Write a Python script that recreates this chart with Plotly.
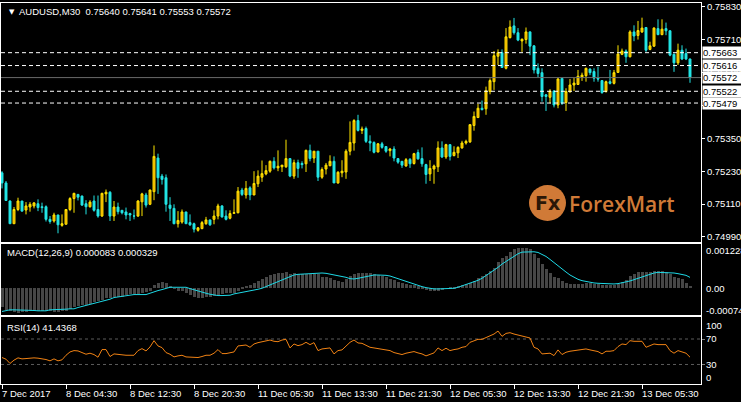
import plotly.graph_objects as go

W, H = 741, 402

# ---------------- data ----------------
bar_index = list(range(173))

open_ = [0.75224,0.75187,0.75121,0.75038,0.75090,0.75121,0.75088,0.75099,0.75103,0.75111,
0.75100,0.75100,0.75054,0.75048,0.75070,0.75032,0.75036,0.75090,0.75130,0.75145,
0.75139,0.75111,0.75100,0.75121,0.75090,0.75066,0.75147,0.75153,0.75066,0.75099,
0.75087,0.75081,0.75075,0.75066,0.75066,0.75118,0.75143,0.75109,0.75155,0.75278,
0.75212,0.75206,0.75106,0.75094,0.75038,0.75044,0.75081,0.75042,0.75038,0.75014,
0.75020,0.75038,0.75052,0.75054,0.75066,0.75103,0.75066,0.75058,0.75076,0.75078,
0.75161,0.75143,0.75169,0.75143,0.75184,0.75208,0.75220,0.75230,0.75266,0.75242,
0.75246,0.75246,0.75276,0.75212,0.75261,0.75258,0.75257,0.75306,0.75278,0.75303,
0.75208,0.75238,0.75250,0.75266,0.75187,0.75224,0.75227,0.75303,0.75333,0.75415,
0.75379,0.75386,0.75339,0.75335,0.75300,0.75330,0.75320,0.75305,0.75311,0.75276,
0.75266,0.75249,0.75273,0.75258,0.75298,0.75276,0.75254,0.75220,0.75238,0.75246,
0.75315,0.75282,0.75327,0.75287,0.75297,0.75315,0.75333,0.75337,0.75397,0.75426,
0.75460,0.75458,0.75521,0.75557,0.75650,0.75663,0.75606,0.75718,0.75761,0.75736,
0.75706,0.75711,0.75739,0.75688,0.75606,0.75590,0.75509,0.75500,0.75523,0.75472,
0.75569,0.75481,0.75520,0.75545,0.75547,0.75574,0.75579,0.75603,0.75594,0.75570,
0.75561,0.75521,0.75557,0.75551,0.75591,0.75657,0.75669,0.75648,0.75739,0.75726,
0.75739,0.75755,0.75675,0.75687,0.75751,0.75729,0.75751,0.75743,0.75657,0.75626,
0.75672,0.75660,0.75640]

high = [0.75230,0.75194,0.75123,0.75099,0.75133,0.75121,0.75117,0.75117,0.75117,0.75127,
0.75115,0.75105,0.75066,0.75078,0.75070,0.75072,0.75090,0.75135,0.75151,0.75147,
0.75141,0.75124,0.75124,0.75141,0.75141,0.75151,0.75163,0.75157,0.75121,0.75115,
0.75087,0.75097,0.75078,0.75090,0.75124,0.75151,0.75151,0.75163,0.75324,0.75294,
0.75220,0.75218,0.75135,0.75109,0.75084,0.75090,0.75081,0.75072,0.75042,0.75026,
0.75048,0.75063,0.75052,0.75087,0.75111,0.75106,0.75087,0.75087,0.75127,0.75172,
0.75169,0.75194,0.75175,0.75230,0.75233,0.75269,0.75252,0.75269,0.75281,0.75306,
0.75252,0.75345,0.75276,0.75272,0.75272,0.75266,0.75309,0.75327,0.75303,0.75303,
0.75244,0.75260,0.75288,0.75284,0.75230,0.75270,0.75310,0.75412,0.75420,0.75436,
0.75393,0.75393,0.75361,0.75339,0.75333,0.75337,0.75321,0.75315,0.75321,0.75276,
0.75266,0.75278,0.75278,0.75297,0.75309,0.75317,0.75257,0.75270,0.75254,0.75339,
0.75339,0.75330,0.75329,0.75321,0.75321,0.75341,0.75345,0.75402,0.75448,0.75476,
0.75488,0.75539,0.75569,0.75669,0.75675,0.75675,0.75753,0.75781,0.75790,0.75753,
0.75715,0.75755,0.75741,0.75690,0.75624,0.75606,0.75512,0.75530,0.75526,0.75572,
0.75572,0.75533,0.75567,0.75572,0.75600,0.75590,0.75608,0.75606,0.75606,0.75612,
0.75563,0.75561,0.75600,0.75600,0.75690,0.75678,0.75675,0.75745,0.75763,0.75779,
0.75791,0.75757,0.75703,0.75756,0.75785,0.75785,0.75773,0.75745,0.75660,0.75696,
0.75690,0.75678,0.75641]

low = [0.75167,0.75121,0.75038,0.75038,0.75084,0.75084,0.75072,0.75082,0.75094,0.75084,
0.75078,0.75046,0.75038,0.75042,0.75003,0.75027,0.75036,0.75084,0.75078,0.75123,
0.75103,0.75072,0.75097,0.75082,0.75060,0.75063,0.75117,0.75048,0.75048,0.75072,
0.75072,0.75054,0.75048,0.75054,0.75063,0.75066,0.75097,0.75106,0.75124,0.75147,
0.75181,0.75082,0.75048,0.75036,0.75024,0.75038,0.75038,0.75030,0.75006,0.75009,
0.75018,0.75034,0.75030,0.75036,0.75054,0.75060,0.75050,0.75054,0.75076,0.75076,
0.75139,0.75130,0.75124,0.75143,0.75172,0.75191,0.75215,0.75224,0.75236,0.75230,
0.75227,0.75242,0.75208,0.75202,0.75206,0.75240,0.75227,0.75266,0.75260,0.75194,
0.75202,0.75218,0.75248,0.75187,0.75184,0.75208,0.75202,0.75288,0.75305,0.75375,
0.75366,0.75333,0.75303,0.75295,0.75299,0.75312,0.75297,0.75284,0.75266,0.75257,
0.75242,0.75246,0.75242,0.75254,0.75272,0.75246,0.75184,0.75194,0.75184,0.75227,
0.75278,0.75275,0.75269,0.75284,0.75278,0.75312,0.75327,0.75333,0.75378,0.75424,
0.75452,0.75436,0.75511,0.75527,0.75618,0.75608,0.75602,0.75715,0.75729,0.75705,
0.75666,0.75696,0.75654,0.75587,0.75572,0.75484,0.75450,0.75478,0.75463,0.75460,
0.75472,0.75450,0.75517,0.75523,0.75545,0.75560,0.75557,0.75581,0.75557,0.75557,
0.75513,0.75517,0.75547,0.75547,0.75590,0.75654,0.75626,0.75646,0.75705,0.75711,
0.75735,0.75666,0.75672,0.75684,0.75727,0.75727,0.75727,0.75650,0.75593,0.75618,
0.75636,0.75636,0.75553]

close = [0.75187,0.75123,0.75038,0.75090,0.75121,0.75084,0.75103,0.75109,0.75114,0.75097,
0.75097,0.75054,0.75046,0.75070,0.75034,0.75038,0.75090,0.75130,0.75149,0.75135,
0.75106,0.75100,0.75117,0.75087,0.75066,0.75149,0.75153,0.75066,0.75099,0.75082,
0.75078,0.75070,0.75070,0.75066,0.75121,0.75147,0.75106,0.75161,0.75284,0.75206,
0.75200,0.75109,0.75094,0.75038,0.75050,0.75081,0.75038,0.75034,0.75018,0.75023,
0.75042,0.75052,0.75034,0.75066,0.75103,0.75063,0.75054,0.75075,0.75078,0.75157,
0.75145,0.75167,0.75143,0.75185,0.75212,0.75221,0.75232,0.75266,0.75242,0.75248,
0.75252,0.75276,0.75212,0.75261,0.75240,0.75254,0.75306,0.75276,0.75303,0.75208,
0.75236,0.75252,0.75266,0.75187,0.75226,0.75230,0.75303,0.75335,0.75415,0.75379,
0.75384,0.75339,0.75333,0.75299,0.75330,0.75317,0.75303,0.75311,0.75278,0.75263,
0.75252,0.75272,0.75257,0.75294,0.75275,0.75257,0.75218,0.75240,0.75249,0.75315,
0.75282,0.75327,0.75284,0.75299,0.75317,0.75333,0.75339,0.75400,0.75430,0.75460,
0.75455,0.75524,0.75561,0.75652,0.75663,0.75609,0.75721,0.75757,0.75736,0.75709,
0.75712,0.75739,0.75687,0.75600,0.75587,0.75503,0.75503,0.75523,0.75472,0.75567,
0.75478,0.75521,0.75545,0.75552,0.75577,0.75581,0.75606,0.75590,0.75570,0.75567,
0.75517,0.75557,0.75551,0.75590,0.75658,0.75669,0.75648,0.75739,0.75724,0.75744,
0.75753,0.75672,0.75688,0.75753,0.75729,0.75749,0.75743,0.75654,0.75626,0.75672,
0.75640,0.75640,0.75572]

macd_main = [-0.00057,-0.00064,-0.00069,-0.00072,-0.00074,-0.00072,-0.00071,-0.00069,-0.00069,-0.00067,
-0.00067,-0.00067,-0.00069,-0.00070,-0.00071,-0.00069,-0.00067,-0.00062,-0.00055,-0.00052,
-0.00050,-0.00049,-0.00047,-0.00042,-0.00039,-0.00035,-0.00029,-0.00029,-0.00025,-0.00025,
-0.00025,-0.00020,-0.00017,-0.00017,-0.00017,-0.00015,-0.00012,-0.00007,0.00012,0.00016,
0.00021,0.00017,0.00007,0.00001,-0.00007,-0.00009,-0.00014,-0.00019,-0.00025,-0.00029,
-0.00029,-0.00027,-0.00025,-0.00022,-0.00019,-0.00017,-0.00015,-0.00015,-0.00013,-0.00009,
0.00002,0.00008,0.00012,0.00016,0.00023,0.00029,0.00035,0.00040,0.00044,0.00046,
0.00047,0.00049,0.00045,0.00046,0.00045,0.00045,0.00045,0.00045,0.00043,0.00043,
0.00036,0.00035,0.00031,0.00025,0.00023,0.00021,0.00028,0.00038,0.00045,0.00048,
0.00048,0.00046,0.00046,0.00043,0.00040,0.00039,0.00035,0.00030,0.00025,0.00021,
0.00016,0.00013,0.00010,0.00009,0.00006,0.00003,-0.00003,-0.00007,-0.00009,-0.00007,
-0.00003,0.00000,0.00004,0.00005,0.00008,0.00011,0.00013,0.00018,0.00023,0.00031,
0.00039,0.00045,0.00053,0.00063,0.00080,0.00091,0.00098,0.00111,0.00118,0.001228,
0.00123,0.00123,0.00118,0.00105,0.00093,0.00075,0.00059,0.00047,0.00035,0.00031,
0.00023,0.00016,0.00015,0.00014,0.00013,0.00015,0.00016,0.00016,0.00015,0.00013,
0.00011,0.00009,0.00009,0.00011,0.00015,0.00019,0.00026,0.00039,0.00045,0.00050,
0.00051,0.00050,0.00051,0.00053,0.00053,0.00053,0.00051,0.00043,0.00035,0.00033,
0.00028,0.00018,0.000083]

macd_signal = [-0.00070,-0.00067,-0.00065,-0.00065,-0.00065,-0.00065,-0.00065,-0.00065,-0.00067,-0.00068,
-0.00068,-0.00068,-0.00065,-0.00065,-0.00065,-0.00064,-0.00063,-0.00062,-0.00062,-0.00058,
-0.00055,-0.00052,-0.00048,-0.00046,-0.00043,-0.00040,-0.00037,-0.00033,-0.00028,-0.00026,
-0.00024,-0.00022,-0.00020,-0.00019,-0.00019,-0.00019,-0.00019,-0.00015,-0.00010,-0.00007,
-0.00004,0.00000,0.00003,0.00003,0.00003,0.00003,0.00003,-0.00001,-0.00005,-0.00008,
-0.00012,-0.00015,-0.00018,-0.00021,-0.00022,-0.00022,-0.00022,-0.00021,-0.00017,-0.00015,
-0.00013,-0.00011,-0.00009,-0.00007,-0.00003,0.00000,0.00005,0.00010,0.00014,0.00018,
0.00023,0.00029,0.00035,0.00040,0.00042,0.00043,0.00044,0.00045,0.00046,0.00046,
0.00046,0.00045,0.00043,0.00041,0.00039,0.00036,0.00033,0.00029,0.00028,0.00030,
0.00033,0.00036,0.00039,0.00040,0.00040,0.00040,0.00039,0.00037,0.00033,0.00028,
0.00023,0.00019,0.00016,0.00012,0.00008,0.00005,0.00002,-0.00001,-0.00002,-0.00002,
-0.00002,-0.00002,-0.00002,0.00000,0.00003,0.00007,0.00011,0.00015,0.00019,0.00024,
0.00030,0.00038,0.00047,0.00055,0.00063,0.00073,0.00081,0.00090,0.00097,0.00104,
0.00109,0.00110,0.00110,0.00110,0.00108,0.00102,0.00096,0.00087,0.00077,0.00068,
0.00058,0.00049,0.00040,0.00033,0.00027,0.00023,0.00020,0.00018,0.00016,0.00015,
0.00014,0.00013,0.00013,0.00013,0.00014,0.00016,0.00019,0.00022,0.00026,0.00030,
0.00035,0.00039,0.00043,0.00046,0.00048,0.00048,0.00048,0.00048,0.00046,0.00044,
0.00042,0.00039,0.000329]

rsi = [40.9,38.3,31.6,36.8,40.4,38.8,39.3,39.9,40.4,39.9,
39.3,37.8,35.7,38.8,35.7,37.3,44.5,49.7,51.8,51.3,
48.7,46.1,47.7,45.6,41.4,53.4,53.4,42.5,46.6,45.6,
44.5,44.5,44.5,44.5,51.8,54.9,51.3,57.5,67.4,59.1,
56.5,48.7,46.1,41.9,43.5,44.5,41.9,41.9,40.9,40.9,
42.5,44.5,44.5,47.7,53.4,47.1,47.1,48.7,49.7,59.1,
60.1,60.6,57.0,62.2,64.3,65.8,67.4,68.4,66.4,65.8,
68.4,69.5,56.0,62.2,59.6,61.2,64.8,61.2,64.3,51.8,
54.4,55.5,56.0,46.6,51.8,52.9,59.6,64.8,68.4,63.8,
63.2,60.1,57.0,56.0,54.9,53.4,52.9,51.8,48.7,46.6,
45.6,47.7,48.7,50.3,48.2,46.6,43.5,46.1,48.2,56.0,
51.8,55.5,51.8,53.4,54.4,57.0,58.1,64.8,67.4,69.5,
69.5,72.6,74.7,77.8,82.5,74.2,78.8,79.9,77.8,76.2,
74.7,74.2,71.6,57.0,54.4,46.6,46.6,47.7,44.0,52.9,
45.6,49.2,50.8,51.8,52.9,53.9,54.4,52.9,51.8,50.3,
46.6,50.8,50.8,51.8,58.1,62.2,61.2,67.4,66.4,66.4,
66.4,57.0,59.1,62.2,61.2,61.7,61.2,51.8,47.7,51.8,
50.3,47.7,41.4368]

price_ticks = [0.75830, 0.75710, 0.75590, 0.75470, 0.75350, 0.75230, 0.75110, 0.74990]
level_lines = [0.75663, 0.75616, 0.75522, 0.75479]
bid_price = 0.75572
time_tick_index = [0, 16, 32, 48, 64, 80, 96, 112, 128, 144, 160]
time_tick_labels = ["7 Dec 2017", "8 Dec 04:30", "8 Dec 12:30", "8 Dec 20:30",
                    "11 Dec 05:30", "11 Dec 13:30", "11 Dec 21:30", "12 Dec 05:30",
                    "12 Dec 13:30", "12 Dec 21:30", "13 Dec 05:30"]
macd_labels = [(0.001228, "0.001228"), (0.0, "0.00"), (-0.00074, "-0.000740")]
rsi_levels = [70, 30]

# ---------------- layout helpers ----------------
FONT = "Liberation Sans, Arial, sans-serif"
FS = 9.5
XD = [1 / W, 701 / W]


def px(x):
    return x / W


def py(y):
    return 1 - y / H


XR = [-0.25, 174.75]

fig = go.Figure()
fig.add_trace(go.Candlestick(
    x=bar_index, open=open_, high=high, low=low, close=close,
    increasing=dict(line=dict(color="#FFE600", width=1), fillcolor="#E89A00"),
    decreasing=dict(line=dict(color="#22E4E4", width=1), fillcolor="#22E4E4"),
    whiskerwidth=0, xaxis="x", yaxis="y", hoverinfo="skip", showlegend=False))
fig.add_trace(go.Bar(x=bar_index, y=macd_main, width=0.75,
                     marker=dict(color="#464646", line=dict(width=0)),
                     xaxis="x2", yaxis="y2", hoverinfo="skip", showlegend=False))
fig.add_trace(go.Scatter(x=bar_index, y=macd_signal, mode="lines",
                         line=dict(color="#1ED9E6", width=1),
                         xaxis="x2", yaxis="y2", hoverinfo="skip", showlegend=False))
fig.add_trace(go.Scatter(x=bar_index, y=rsi, mode="lines",
                         line=dict(color="#F08214", width=1),
                         xaxis="x3", yaxis="y3", hoverinfo="skip", showlegend=False))

common = dict(showgrid=False, zeroline=False, showline=True, mirror=True,
              linecolor="white", linewidth=1)

fig.update_layout(
    width=W, height=H, margin=dict(l=0, r=0, t=0, b=0),
    paper_bgcolor="black", plot_bgcolor="black",
    showlegend=False, hovermode=False, boxgap=0.3, bargap=0,
    font=dict(family=FONT, size=FS, color="white"),
    xaxis=dict(domain=XD, range=XR, anchor="y", showticklabels=False, ticks="",
               rangeslider=dict(visible=False), **common),
    xaxis2=dict(domain=XD, range=XR, anchor="y2", showticklabels=False, ticks="",
                matches="x", **common),
    xaxis3=dict(domain=XD, range=XR, anchor="y3", showticklabels=False,
                tickmode="array", tickvals=time_tick_index, ticks="outside",
                ticklen=4, tickcolor="white", matches="x", **common),
    yaxis=dict(domain=[py(241), py(1)], range=[0.749719, 0.758446], anchor="x",
               side="right", tickmode="array", tickvals=price_ticks,
               ticktext=[f"{v:.5f}" for v in price_ticks], ticks="outside",
               ticklen=3, tickcolor="white", ticklabeloverflow="allow",
               tickfont=dict(family=FONT, size=FS, color="white"), **common),
    yaxis2=dict(domain=[py(315), py(243)], range=[-0.000819, 0.001341], anchor="x2",
                side="right", showticklabels=False, ticks="", **common),
    yaxis3=dict(domain=[py(384), py(317)], range=[-0.78, 103.9], anchor="x3",
                side="right", showticklabels=False, tickmode="array",
                tickvals=rsi_levels, ticks="outside", ticklen=3,
                tickcolor="#808080", **common),
)

shapes = []
for lv in level_lines:
    shapes.append(dict(type="line", xref="x domain", x0=0, x1=1, yref="y", y0=lv, y1=lv,
                       line=dict(color="white", width=1, dash="4px,3px"), layer="above"))
shapes.append(dict(type="line", xref="x domain", x0=0, x1=1, yref="y", y0=bid_price,
                   y1=bid_price, line=dict(color="#6a6a6a", width=1), layer="above"))
for lv in rsi_levels:
    shapes.append(dict(type="line", xref="x3 domain", x0=0, x1=1, yref="y3", y0=lv, y1=lv,
                       line=dict(color="#5c5c5c", width=1, dash="3px,3px"), layer="below"))
# watermark logo circle
shapes.append(dict(type="circle", xref="paper", yref="paper",
                   x0=px(529), x1=px(566), y0=py(220), y1=py(184),
                   fillcolor="#D07A37", line=dict(width=0), layer="below"))
fig.update_layout(shapes=shapes)

ann = []
# highlighted price labels
for lv in level_lines + [bid_price]:
    ann.append(dict(x=px(701.5), xref="paper", y=lv, yref="y", xanchor="left",
                    yanchor="middle", text=f"{lv:.5f}", showarrow=False, align="left",
                    width=38, borderpad=0, bgcolor="white",
                    font=dict(family=FONT, size=FS, color="black")))
# titles
ann.append(dict(x=px(7), y=py(10), xref="paper", yref="paper", xanchor="left",
                yanchor="middle", text="\u25BC", showarrow=False,
                font=dict(family="DejaVu Sans", size=7, color="white")))
ann.append(dict(x=px(17), y=py(9.5), xref="paper", yref="paper", xanchor="left",
                yanchor="middle",
                text="AUDUSD,M30\u00a0\u00a00.75640 0.75641 0.75553 0.75572",
                showarrow=False, font=dict(family=FONT, size=FS, color="white")))
ann.append(dict(x=px(5), y=py(252), xref="paper", yref="paper", xanchor="left",
                yanchor="middle", text="MACD(12,26,9) 0.000083 0.000329",
                showarrow=False, font=dict(family=FONT, size=FS, color="white")))
ann.append(dict(x=px(5), y=py(327), xref="paper", yref="paper", xanchor="left",
                yanchor="middle", text="RSI(14) 41.4368",
                showarrow=False, font=dict(family=FONT, size=FS, color="white")))
# MACD scale labels
macd_label_y = {"0.001228": 250, "0.00": 288, "-0.000740": 310}
for val, txt in macd_labels:
    ann.append(dict(x=px(704), y=py(macd_label_y[txt]), xref="paper", yref="paper",
                    xanchor="left", yanchor="middle", text=txt, showarrow=False,
                    font=dict(family=FONT, size=FS, color="white")))
# RSI scale labels
for txt, yy in [("100", 325), ("70", 338.5), ("30", 364), ("0", 377)]:
    ann.append(dict(x=px(704), y=py(yy), xref="paper", yref="paper",
                    xanchor="left", yanchor="middle", text=txt, showarrow=False,
                    font=dict(family=FONT, size=FS, color="white")))
# time labels
for idx, lab in zip(time_tick_index, time_tick_labels):
    ann.append(dict(x=idx, xref="x3", y=py(393.5), yref="paper", xanchor="left",
                    yanchor="middle", xshift=-2, text=lab, showarrow=False,
                    font=dict(family=FONT, size=FS, color="white")))
# watermark
ann.append(dict(x=px(547.5), y=py(202.5), xref="paper", yref="paper", xanchor="center",
                yanchor="middle", text="<b>Fx</b>", showarrow=False,
                font=dict(family="DejaVu Sans", size=19, color="#2b1707")))
ann.append(dict(x=px(567), y=py(203), xref="paper", yref="paper", xanchor="left",
                yanchor="middle", text="ForexMart", showarrow=False,
                font=dict(family="Open Sans", size=21, color="#D07A37", weight=600)))
fig.update_layout(annotations=ann)

fig.write_html("out.html", config={"displayModeBar": False},
               post_script="document.body.style.margin='0';document.body.style.overflow='hidden';")
